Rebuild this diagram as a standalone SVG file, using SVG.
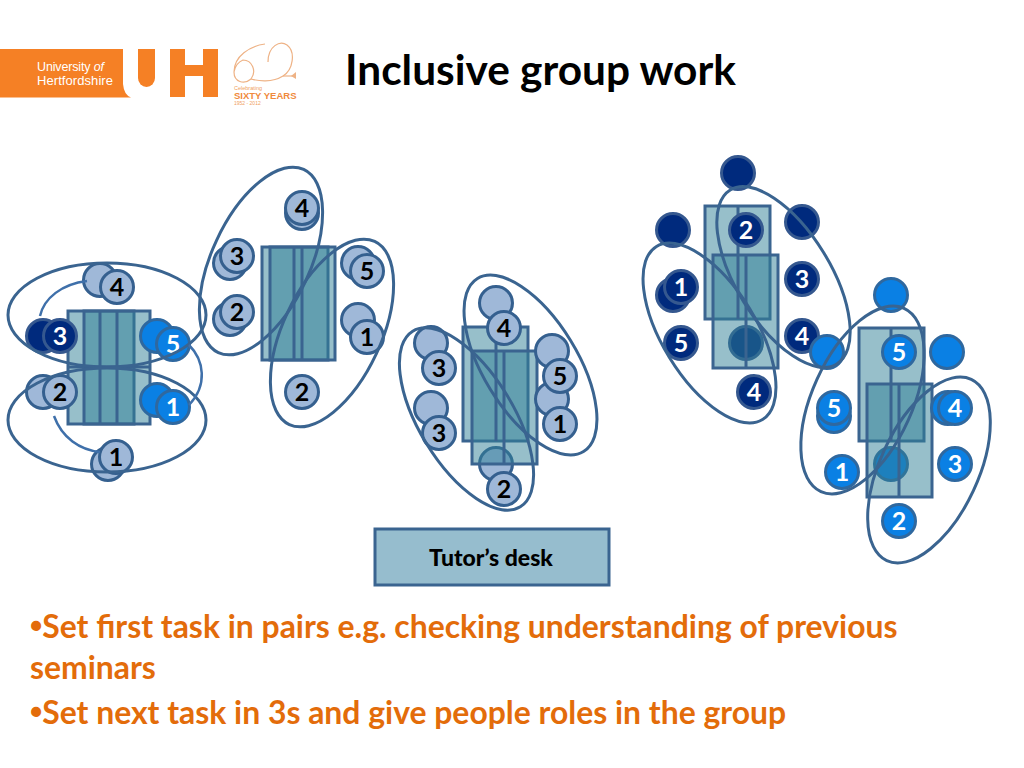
<svg xmlns="http://www.w3.org/2000/svg" width="1024" height="768" viewBox="0 0 1024 768">
<defs><style>
.t{fill:#2f8096;fill-opacity:.5;stroke:#3a6490;stroke-width:3}
.l{stroke:#3a6490;stroke-width:3;fill:none}
.p{fill:#9fb8d8;stroke:#35608f;stroke-width:3}
.d{fill:#002a7d;stroke:#35588f;stroke-width:3}
.b{fill:#0a80e4;stroke:#2f689f;stroke-width:3}
.e{fill:none;stroke:#3a6490;stroke-width:3}
.a{fill:none;stroke:#3f70aa;stroke-width:2.500}
.n{font:700 25px Lato,"Liberation Sans",sans-serif;text-anchor:middle;fill:#000}
.w{fill:#fff}
.o{font:700 31.900px Lato,"Open Sans",sans-serif;fill:#e36c0a}
.o tspan{font-family:"Liberation Sans",sans-serif;font-size:35px}
</style></defs>
<rect width="1024" height="768" fill="#fff"/>
<g id="logo">
<path d="M0 49H123V84Q124 95 131 97.500H0Z" fill="#f58025"/>
<path d="M138 49H155V78A8.500 9 0 0 1 138 78Z" fill="#f58025"/>
<path d="M170 49H185V65H203V49H218V97H203V76H185V97H170Z" fill="#f58025"/>
<text x="37" y="71" font-family="Liberation Sans,sans-serif" font-size="12.500" fill="#fff" textLength="67">University<tspan font-style="italic"> of</tspan></text>
<text x="37" y="85" font-family="Liberation Sans,sans-serif" font-size="13" fill="#fff" textLength="76">Hertfordshire</text>
<g fill="none" stroke="#eeb285" stroke-width="1.200">
<path d="M265 44C250 46 234 56 234 72C234 82 244 85 251 79C257 71 252 60 243 60C238 62 235 67 234 72"/>
<path d="M268 62C268 46 280 40 287 45C296 52 293 70 283 76C272 83 258 81 251 79"/>
<path d="M283 76L295 76"/>
</g>
<path d="M291 76l5 -4l0 7z" fill="#eeb285"/>
<text x="234" y="90" font-family="Liberation Sans,sans-serif" font-size="5.500" fill="#f0a060">Celebrating</text>
<text x="234" y="99" font-family="Liberation Sans,sans-serif" font-size="9.500" font-weight="700" fill="#f08a3c">SIXTY YEARS</text>
<text x="234" y="105" font-family="Liberation Sans,sans-serif" font-size="5" fill="#f0a060">1952 - 2012</text>
</g>
<text id="title" x="345" y="85" font-family="Lato,'Open Sans',sans-serif" font-size="42.400" font-weight="700" fill="#000">Inclusive group work</text>

<g id="hidden-seats">
<circle class="p" cx="496" cy="464" r="16.500"/>
<circle class="d" cx="746" cy="343" r="16.500"/>
<circle class="b" cx="891" cy="464" r="16.500"/>
</g>

<g id="table-a"><rect class="t" x="68" y="311" width="66" height="113"/><rect class="t" x="84" y="311" width="66" height="113"/><path class="l" d="M100 311V424M117 311V424M68 367H150"/></g>
<g id="table-b"><rect class="t" x="262" y="247" width="66" height="113"/><rect class="t" x="270" y="247" width="65" height="113"/><path class="l" d="M294 247V360M302 247V360"/></g>
<g id="table-c"><rect class="t" x="463" y="327" width="65" height="114"/><rect class="t" x="472" y="351" width="65" height="113"/><path class="l" d="M496 327V441M504 351V464"/></g>
<g id="table-d"><rect class="t" x="705" y="206" width="65" height="113"/><rect class="t" x="713" y="255" width="65" height="113"/><path class="l" d="M738 206V319M746 255V368"/></g>
<g id="table-e"><rect class="t" x="859" y="328" width="65" height="113"/><rect class="t" x="867" y="384" width="65" height="113"/><path class="l" d="M891 328V441M899 384V497"/></g>
<g id="desk"><rect x="375" y="529" width="234" height="56" fill="#96bdce" stroke="#3a6490" stroke-width="3"/><text x="491" y="566" font-family="Lato,sans-serif" font-size="23" font-weight="900" text-anchor="middle" fill="#000">Tutor’s desk</text></g>

<g id="seats-a">
<g id="a4"><circle class="p" cx="100" cy="280" r="16.500"/><circle class="p" cx="117" cy="287" r="16.500"/><text class="n" x="117" y="296">4</text></g>
<g id="a3"><circle class="d" cx="43" cy="336" r="16.500"/><circle class="d" cx="60" cy="336" r="16.500"/><text class="n w" x="60" y="345">3</text></g>
<g id="a5"><circle class="b" cx="157" cy="336" r="16.500"/><circle class="b" cx="173" cy="344" r="16.500"/><text class="n w" x="173" y="353">5</text></g>
<g id="a2"><circle class="p" cx="43" cy="392" r="16.500"/><circle class="p" cx="60" cy="392" r="16.500"/><text class="n" x="60" y="401">2</text></g>
<g id="a1b"><circle class="b" cx="157" cy="400" r="16.500"/><circle class="b" cx="173" cy="407" r="16.500"/><text class="n w" x="173" y="416">1</text></g>
<g id="a1"><circle class="p" cx="108" cy="464" r="16.500"/><circle class="p" cx="116" cy="457" r="16.500"/><text class="n" x="116" y="466">1</text></g>
</g>
<g id="seats-b">
<g id="b4"><circle class="p" cx="302" cy="213" r="16.500"/><circle class="p" cx="302" cy="208" r="16.500"/><text class="n" x="302" y="217">4</text></g>
<g id="b3"><circle class="p" cx="230" cy="263" r="16.500"/><circle class="p" cx="237" cy="256" r="16.500"/><text class="n" x="237" y="265">3</text></g>
<g id="b2"><circle class="p" cx="230" cy="319" r="16.500"/><circle class="p" cx="237" cy="312" r="16.500"/><text class="n" x="237" y="321">2</text></g>
<g id="b5"><circle class="p" cx="358" cy="263" r="16.500"/><circle class="p" cx="367" cy="271" r="16.500"/><text class="n" x="367" y="280">5</text></g>
<g id="b1"><circle class="p" cx="358" cy="320" r="16.500"/><circle class="p" cx="367" cy="337" r="16.500"/><text class="n" x="367" y="346">1</text></g>
<g id="b2b"><circle class="p" cx="302" cy="392" r="16.500"/><text class="n" x="302" y="401">2</text></g>
</g>
<g id="seats-c">
<g id="c3"><circle class="p" cx="431" cy="343" r="16.500"/><circle class="p" cx="439" cy="368" r="16.500"/><text class="n" x="439" y="377">3</text></g>
<g id="c3b"><circle class="p" cx="431" cy="408" r="16.500"/><circle class="p" cx="439" cy="433" r="16.500"/><text class="n" x="439" y="442">3</text></g>
<g id="c4"><circle class="p" cx="496" cy="303" r="16.500"/><circle class="p" cx="504" cy="328" r="16.500"/><text class="n" x="504" y="337">4</text></g>
<g id="c5"><circle class="p" cx="552" cy="351" r="16.500"/><circle class="p" cx="552" cy="399" r="16.500"/><circle class="p" cx="560" cy="376" r="16.500"/><text class="n" x="560" y="385">5</text></g>
<g id="c1"><circle class="p" cx="560" cy="424" r="16.500"/><text class="n" x="560" y="433">1</text></g>
<g id="c2"><circle class="p" cx="504" cy="489" r="16.500"/><text class="n" x="504" y="498">2</text></g>
</g>
<g id="seats-d">
<g id="d-top"><circle class="d" cx="738" cy="173" r="16.500"/></g>
<g id="d-left"><circle class="d" cx="673" cy="230" r="16.500"/></g>
<g id="d-right"><circle class="d" cx="802" cy="222" r="16.500"/></g>
<g id="d2"><circle class="d" cx="746" cy="230" r="16.500"/><text class="n w" x="746" y="239">2</text></g>
<g id="d1"><circle class="d" cx="673" cy="295" r="16.500"/><circle class="d" cx="681" cy="287" r="16.500"/><text class="n w" x="681" y="296">1</text></g>
<g id="d3"><circle class="d" cx="802" cy="279" r="16.500"/><text class="n w" x="802" y="288">3</text></g>
<g id="d5"><circle class="d" cx="681" cy="343" r="16.500"/><text class="n w" x="681" y="352">5</text></g>
<g id="d4"><circle class="d" cx="802" cy="336" r="16.500"/><text class="n w" x="802" y="345">4</text></g>
<g id="d4b"><circle class="d" cx="754" cy="392" r="16.500"/><text class="n w" x="754" y="401">4</text></g>
</g>
<g id="seats-e">
<g id="e-top"><circle class="b" cx="891" cy="295" r="16.500"/></g>
<g id="e-left"><circle class="b" cx="827" cy="352" r="16.500"/></g>
<g id="e-right"><circle class="b" cx="947" cy="352" r="16.500"/></g>
<g id="e5"><circle class="b" cx="899" cy="352" r="16.500"/><text class="n w" x="899" y="361">5</text></g>
<g id="e5b"><circle class="b" cx="834" cy="416" r="16.500"/><circle class="b" cx="834" cy="408" r="16.500"/><text class="n w" x="834" y="417">5</text></g>
<g id="e4"><circle class="b" cx="948" cy="408" r="16.500"/><circle class="b" cx="955" cy="408" r="16.500"/><text class="n w" x="955" y="417">4</text></g>
<g id="e1"><circle class="b" cx="842" cy="472" r="16.500"/><text class="n w" x="842" y="481">1</text></g>
<g id="e3"><circle class="b" cx="955" cy="464" r="16.500"/><text class="n w" x="955" y="473">3</text></g>
<g id="e2"><circle class="b" cx="899" cy="521" r="16.500"/><text class="n w" x="899" y="530">2</text></g>
</g>

<g id="connectors">
<ellipse class="e" cx="107" cy="315" rx="99" ry="52"/>
<ellipse class="e" cx="107" cy="420" rx="99" ry="52"/>
<path class="a" d="M40 316C44 298 62 284 87 281"/>
<path class="a" d="M189 345C204 360 208 385 189 405"/>
<path class="a" d="M54 416C62 438 80 450 100 452"/>
<ellipse class="e" cx="261" cy="261" rx="101" ry="49" transform="rotate(-65 261 261)"/>
<ellipse class="e" cx="332" cy="333" rx="101" ry="49" transform="rotate(-65 332 333)"/>
<ellipse class="e" cx="530.500" cy="365" rx="101.500" ry="47" transform="rotate(58.500 530.500 365)"/>
<ellipse class="e" cx="466.500" cy="419" rx="103" ry="47" transform="rotate(58.500 466.500 419)"/>
<ellipse class="e" cx="783.500" cy="277" rx="102" ry="47" transform="rotate(58.500 783.500 277)"/>
<ellipse class="e" cx="709.500" cy="333" rx="101.500" ry="47" transform="rotate(58.500 709.500 333)"/>
<ellipse class="e" cx="862.500" cy="400" rx="100.600" ry="50" transform="rotate(-65.600 862.500 400)"/>
<ellipse class="e" cx="929" cy="470" rx="100" ry="49" transform="rotate(-65 929 470)"/>
</g>

<g id="bullets">
<text class="o" x="30" y="638"><tspan>•</tspan>Set first task in pairs e.g. checking understanding of previous</text>
<text class="o" x="30" y="679">seminars</text>
<text class="o" x="30" y="724"><tspan>•</tspan>Set next task in 3s and give people roles in the group</text>
</g>
</svg>
